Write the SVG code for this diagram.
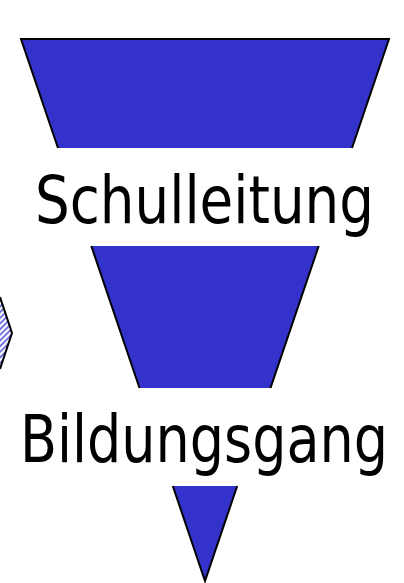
<svg xmlns="http://www.w3.org/2000/svg" width="404" height="583" viewBox="0 0 404 583">
<style>
.fill{fill:#3333CC;stroke:none}
.edge{fill:none;stroke:#000;stroke-width:2;stroke-linejoin:miter}
.lbl{font-family:"DejaVu Sans","Liberation Sans",sans-serif;font-size:65px;fill:#000}
</style>
<defs>
<pattern id="hatch" width="4" height="4" patternUnits="userSpaceOnUse" patternTransform="rotate(-45)">
<rect width="4" height="4" fill="#fff"/>
<rect width="4" height="1.6" fill="#5555DD"/>
</pattern>
</defs>
<rect width="404" height="583" fill="#fff"/>
<g id="side-shape">
<polygon points="0,297 12,333 0,369" fill="url(#hatch)"/>
<polyline class="edge" points="0,297 12,333 0,369"/>
</g>
<g id="level-top">
<polygon class="fill" points="21,39 389,39 352,148 58,148"/>
<path class="edge" d="M58,148 L21,39 L389,39 L352,148"/>
</g>
<g id="level-middle">
<polygon class="fill" points="91.3,246 318.7,246 270.5,388 139.5,388"/>
<path class="edge" d="M91.3,246 L139.5,388 M318.7,246 L270.5,388"/>
</g>
<g id="level-bottom">
<polygon class="fill" points="172.8,486 237.2,486 205,581"/>
<path class="edge" d="M172.8,486 L205,581 L237.2,486"/>
</g>
<g id="label-schulleitung">
<text class="lbl" x="35" y="223" textLength="339" lengthAdjust="spacingAndGlyphs">Schulleitung</text>
</g>
<g id="label-bildungsgang">
<text class="lbl" x="20" y="462" textLength="368" lengthAdjust="spacingAndGlyphs">Bildungsgang</text>
</g>
</svg>
